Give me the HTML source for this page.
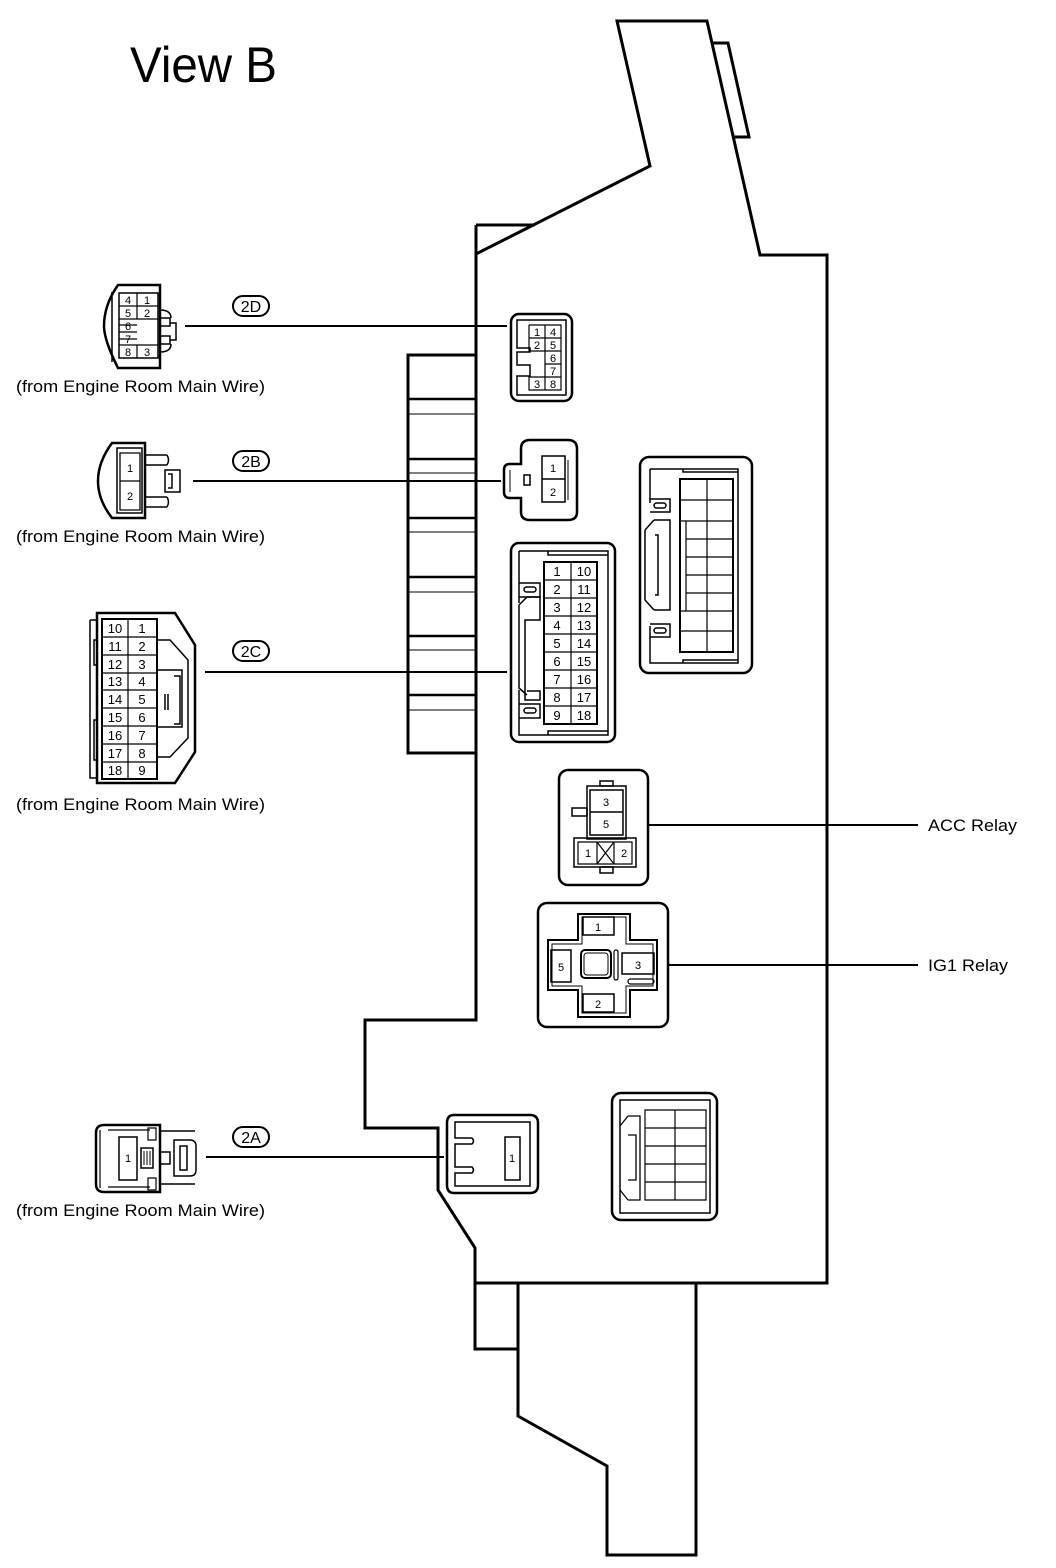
<!DOCTYPE html>
<html><head><meta charset="utf-8"><style>
html,body{margin:0;padding:0;background:#fff;}
svg{display:block;}
text{font-family:"Liberation Sans",sans-serif;fill:#000;}
</style></head><body>
<svg width="1056" height="1568" viewBox="0 0 1056 1568" xmlns="http://www.w3.org/2000/svg">
<g fill="none" stroke="#000" stroke-linejoin="miter">
<path d="M476 225 L535 225 M476 254 L650 166 L617 21 L707 21 L760 255 L827 255 L827 1283 L475 1283 L475 1248 L438 1190 L438 1128 L365 1128 L365 1020 L476 1020 L476 225" stroke-width="3"/>
<path d="M476 254 L535 225" stroke-width="1.5"/>
<path d="M712 43 L728 43 L749 137 L733 137" stroke-width="3"/>
<path d="M475 1283 L475 1349 L518 1349 M518 1283 L518 1416 L607 1466 L607 1555 L696 1555 L696 1283" stroke-width="3"/>
<path d="M476 355 L408 355 L408 753 L476 753" stroke-width="3"/>
<g stroke-width="2.5"><line x1="408" y1="399" x2="476" y2="399"/><line x1="408" y1="459" x2="476" y2="459"/><line x1="408" y1="518" x2="476" y2="518"/><line x1="408" y1="577" x2="476" y2="577"/><line x1="408" y1="636" x2="476" y2="636"/><line x1="408" y1="695" x2="476" y2="695"/></g>
<g stroke-width="1"><line x1="408" y1="414" x2="476" y2="414"/><line x1="408" y1="473" x2="476" y2="473"/><line x1="408" y1="532" x2="476" y2="532"/><line x1="408" y1="592" x2="476" y2="592"/><line x1="408" y1="650" x2="476" y2="650"/><line x1="408" y1="710" x2="476" y2="710"/></g>

<g stroke-width="2">
<line x1="185" y1="326" x2="507" y2="326"/>
<line x1="193" y1="481" x2="501" y2="481"/>
<line x1="205" y1="672" x2="507" y2="672"/>
<line x1="206" y1="1157" x2="444" y2="1157"/>
<line x1="648" y1="825" x2="918" y2="825"/>
<line x1="668" y1="965" x2="918" y2="965"/>
</g>

<rect x="511" y="314" width="61" height="87" rx="8" stroke-width="2.5"/>
<path d="M517 320 L566 320 L566 395 L517 395 L517 376 L530 376 L530 365 L517 365 L517 352 L530 352 L530 348 L517 348 Z" stroke-width="1.5"/>
<path d="M529 325 L561 325 L561 390 L545 390 L545 325 M529 325 L529 351 L545 351 M529 338 L561 338 M545 351 L561 351 M545 364 L561 364 M545 377 L561 377 M529 377 L545 377 L529 377 L529 390 L545 390" stroke-width="1.2"/>
<path d="M530 440 L568 440 Q577 440 577 449 L577 512 Q577 520 568 520 L530 520 Q521 520 521 512 L521 498 L510 498 Q504 498 504 492 L504 470 Q504 464 510 464 L521 464 L521 449 Q521 440 530 440 Z" stroke-width="2.5"/>
<rect x="542" y="456" width="23" height="46" stroke-width="1.5"/>
<line x1="542" y1="479" x2="565" y2="479" stroke-width="1.5"/>
<rect x="524" y="475" width="6" height="10" stroke-width="1.5"/>
<line x1="510" y1="470" x2="510" y2="492" stroke-width="1"/>
<line x1="568" y1="460" x2="568" y2="500" stroke-width="1"/>
<rect x="511" y="543" width="104" height="199" rx="8" stroke-width="2.5"/>
<path d="M519 551 L608 551 L608 735 L519 735 L519 690 M519 551 L519 603" stroke-width="1.5"/>
<path d="M548 551 L548 555 L608 555 M548 735 L548 731 L608 731" stroke-width="1.5"/>
<path d="M519 583 L540 583 L540 597 L519 597 M519 704 L540 704 L540 718 L519 718" stroke-width="1.5"/>
<rect x="524" y="587" width="12" height="5" rx="2.5" stroke-width="1.5"/>
<rect x="524" y="708" width="12" height="5" rx="2.5" stroke-width="1.5"/>
<path d="M527 597 L540 597 L540 620 L525 620 L525 700 L540 700 L540 691 L527 691 M519 605 L527 597 M519 605 L519 688 L527 695" stroke-width="1.5"/>
<rect x="544" y="562" width="53" height="162" stroke-width="2"/>
<g stroke-width="1.2"><line x1="571" y1="562" x2="571" y2="724"/>
<line x1="544" y1="580" x2="597" y2="580"/><line x1="544" y1="598" x2="597" y2="598"/><line x1="544" y1="616" x2="597" y2="616"/><line x1="544" y1="634" x2="597" y2="634"/><line x1="544" y1="652" x2="597" y2="652"/><line x1="544" y1="670" x2="597" y2="670"/><line x1="544" y1="688" x2="597" y2="688"/><line x1="544" y1="706" x2="597" y2="706"/></g>
<rect x="640" y="457" width="112" height="216" rx="9" stroke-width="2.5"/>
<path d="M650 469 L738 469 L738 663 L650 663 L650 626 M650 469 L650 503" stroke-width="1.5"/>
<path d="M683 469 L683 472 L738 472 M683 663 L683 660 L738 660" stroke-width="1.5"/>
<path d="M650 499 L670 499 L670 512 L650 512 M650 624 L670 624 L670 637 L650 637" stroke-width="1.5"/>
<rect x="654" y="503" width="12" height="5" rx="2.5" stroke-width="1.5"/>
<rect x="654" y="628" width="12" height="5" rx="2.5" stroke-width="1.5"/>
<path d="M654 520 L670 520 L670 610 L654 610 M645 530 L654 520 M645 530 L645 600 L654 610 M655 535 L658 535 L658 595 L655 595" stroke-width="1.5"/>
<rect x="680" y="479" width="53" height="173" stroke-width="2"/>
<g stroke-width="1.2"><line x1="707" y1="479" x2="707" y2="652"/><line x1="686" y1="521" x2="686" y2="611"/>
<line x1="680" y1="500" x2="733" y2="500"/><line x1="680" y1="521" x2="733" y2="521"/><line x1="686" y1="539" x2="733" y2="539"/><line x1="686" y1="557" x2="733" y2="557"/><line x1="686" y1="575" x2="733" y2="575"/><line x1="686" y1="593" x2="733" y2="593"/><line x1="680" y1="611" x2="733" y2="611"/><line x1="680" y1="631" x2="733" y2="631"/></g>
<rect x="559" y="770" width="89" height="115" rx="9" stroke-width="2.5"/>
<path d="M590 790 L623 790 L623 835 L590 835 Z M590 812 L623 812" stroke-width="1.5"/>
<rect x="587" y="786" width="39" height="53" stroke-width="1.5"/>
<rect x="600" y="781" width="13" height="5" stroke-width="1.5"/>
<rect x="572" y="808" width="15" height="8" stroke-width="1.5"/>
<rect x="574" y="838" width="62" height="29" stroke-width="1.5"/>
<path d="M578 842 L632 842 L632 864 L578 864 Z M597 842 L597 864 M614 842 L614 864 M597 842 L614 864 M614 842 L597 864" stroke-width="1.2"/>
<rect x="600" y="867" width="13" height="6" stroke-width="1.5"/>
<rect x="538" y="903" width="130" height="124" rx="9" stroke-width="2.5"/>
<path d="M578 914 L630 914 L630 940 L657 940 L657 990 L630 990 L630 1017 L578 1017 L578 990 L548 990 L548 940 L578 940 Z" stroke-width="2"/>
<path d="M582 917 L626 917 L626 944 L653 944 L653 986 L626 986 L626 1013 L582 1013 L582 986 L552 986 L552 944 L582 944 Z" stroke-width="1"/>
<rect x="583" y="917" width="31" height="18" stroke-width="1.5"/>
<rect x="583" y="994" width="31" height="18" stroke-width="1.5"/>
<rect x="551" y="950" width="20" height="32" stroke-width="1.5"/>
<rect x="622" y="953" width="32" height="21" stroke-width="1.5"/>
<rect x="581" y="950" width="30" height="28" rx="4" stroke-width="2"/>
<rect x="584" y="953" width="24" height="22" rx="3" stroke-width="1"/>
<rect x="614" y="950" width="4" height="30" rx="2" stroke-width="1.2"/>
<rect x="628" y="979" width="26" height="5" rx="2.5" stroke-width="1.2"/>
<path d="M454 1115 L530 1115 Q538 1115 538 1123 L538 1185 Q538 1193 530 1193 L454 1193 Q447 1193 447 1185 L447 1123 Q447 1115 454 1115 Z" stroke-width="2.5"/>
<path d="M455 1122 L530 1122 L530 1186 L455 1186 L455 1173 L472 1173 Q475 1170 472 1167 L455 1167 L455 1144 L472 1144 Q475 1141 472 1138 L455 1138 Z" stroke-width="1.5"/>
<rect x="505" y="1137" width="15" height="43" stroke-width="1.5"/>
<rect x="612" y="1093" width="105" height="127" rx="9" stroke-width="2.5"/>
<path d="M620 1100 L710 1100 L710 1213 L620 1213 Z" stroke-width="1.5"/>
<path d="M645 1110 L706 1110 L706 1200 L645 1200 Z M675 1110 L675 1200 M645 1128 L706 1128 M645 1146 L706 1146 M645 1164 L706 1164 M645 1182 L706 1182" stroke-width="1.2"/>
<path d="M628 1116 L640 1116 L640 1200 L628 1200 M620 1126 L628 1116 M620 1190 L628 1200 M628 1135 L636 1135 L636 1180 L628 1180" stroke-width="1.3"/>

<path d="M118 285 L160 285 L160 368 L118 368 Q104 340 104 326 Q104 305 118 285 Z" stroke-width="2.5"/>
<path d="M112 292 L112 362" stroke-width="1.5"/>
<rect x="119" y="293" width="39" height="65" stroke-width="1.5"/>
<path d="M137 293 L137 319 M119 306 L158 306 M119 319 L158 319 M119 325 L137 325 M119 332 L137 332 M119 339 L137 339 M119 345 L158 345 M137 345 L137 358" stroke-width="1.2"/>
<path d="M160 318 L170 318 L170 326 L160 326 M160 336 L170 336 L170 344 L160 344 M160 310 Q171 310 171 318 M160 352 Q171 352 171 344 M170 323 L176 323 L176 340 L170 340" stroke-width="1.5"/>
<path d="M112 443 L145 443 L145 518 L112 518 Q98 500 98 481 Q98 462 112 443 Z" stroke-width="2.5"/>
<rect x="117" y="448" width="25" height="65" stroke-width="1.5"/>
<path d="M120 453 L140 453 L140 510 L120 510 Z M120 481 L140 481" stroke-width="1.3"/>
<path d="M145 455 L167 455 M145 465 L167 465 M167 455 Q170 460 167 465 M145 497 L167 497 M145 507 L167 507 M167 497 Q170 502 167 507 M165 470 L180 470 L180 492 L165 492 Z M168 474 L172 474 L172 488 L168 488" stroke-width="1.5"/>
<path d="M97 613 L175 613 L195 645 L195 752 L175 783 L97 783 Z" stroke-width="2.5"/>
<path d="M90 620 L97 620 M90 620 L90 778 L97 778 M97 640 L94 640 L94 665 L97 665 M97 720 L94 720 L94 760 L97 760" stroke-width="1.5"/>
<rect x="102" y="619" width="55" height="160" stroke-width="2"/>
<g stroke-width="1.2"><line x1="128" y1="619" x2="128" y2="779"/>
<line x1="102" y1="637" x2="157" y2="637"/><line x1="102" y1="655" x2="157" y2="655"/><line x1="102" y1="673" x2="157" y2="673"/><line x1="102" y1="690" x2="157" y2="690"/><line x1="102" y1="708" x2="157" y2="708"/><line x1="102" y1="726" x2="157" y2="726"/><line x1="102" y1="744" x2="157" y2="744"/><line x1="102" y1="762" x2="157" y2="762"/></g>
<path d="M157 640 L170 640 L188 660 L188 738 L170 757 L157 757 M157 670 L182 670 L182 727 L157 727 M174 676 L180 676 L180 724 L174 724 M165 694 L165 710 M168 694 L168 710" stroke-width="1.5"/>
<path d="M104 1125 L160 1125 L160 1192 L104 1192 Q96 1192 96 1184 L96 1133 Q96 1125 104 1125 Z" stroke-width="2.5"/>
<path d="M100 1130 L100 1188 M108 1130 L150 1130 M108 1187 L150 1187" stroke-width="1.2"/>
<rect x="119" y="1137" width="18" height="43" stroke-width="1.5"/>
<rect x="141" y="1148" width="12" height="20" stroke-width="1.5"/>
<path d="M144 1151 L144 1165 M147 1151 L147 1165 M150 1151 L150 1165" stroke-width="1"/>
<path d="M148 1128 L156 1128 L156 1140 L148 1140 Z M148 1178 L156 1178 L156 1190 L148 1190 Z" stroke-width="1.2"/>
<path d="M160 1131 L195 1131 M160 1184 L195 1184 M174 1140 L190 1140 Q196 1140 196 1146 L196 1170 Q196 1176 190 1176 L174 1176 Z M180 1146 L187 1146 L187 1170 L180 1170 Z M160 1152 L170 1152 L170 1164 L160 1164" stroke-width="1.5"/>
<rect x="233" y="296" width="36" height="20" rx="10" stroke-width="2"/>
<rect x="233" y="451" width="36" height="20" rx="10" stroke-width="2"/>
<rect x="233" y="641" width="36" height="20" rx="10" stroke-width="2"/>
<rect x="233" y="1127" width="36" height="20" rx="10" stroke-width="2"/>
</g>
<text x="130" y="82" font-size="50" textLength="147" lengthAdjust="spacingAndGlyphs">View B</text>
<g font-size="17">
<text x="16" y="392" textLength="249" lengthAdjust="spacingAndGlyphs">(from Engine Room Main Wire)</text>
<text x="16" y="542" textLength="249" lengthAdjust="spacingAndGlyphs">(from Engine Room Main Wire)</text>
<text x="16" y="810" textLength="249" lengthAdjust="spacingAndGlyphs">(from Engine Room Main Wire)</text>
<text x="16" y="1216" textLength="249" lengthAdjust="spacingAndGlyphs">(from Engine Room Main Wire)</text>
<text x="928" y="831" textLength="89" lengthAdjust="spacingAndGlyphs">ACC Relay</text>
<text x="928" y="971" textLength="80" lengthAdjust="spacingAndGlyphs">IG1 Relay</text>
</g>
<g font-size="16" text-anchor="middle">
<text x="251" y="312">2D</text><text x="251" y="467">2B</text><text x="251" y="657">2C</text><text x="251" y="1143">2A</text>
</g>
<g font-size="11" text-anchor="middle">
<text x="537" y="336">1</text><text x="553" y="336">4</text>
<text x="537" y="349">2</text><text x="553" y="349">5</text>
<text x="553" y="362">6</text><text x="553" y="375">7</text>
<text x="537" y="388">3</text><text x="553" y="388">8</text>
<text x="128" y="304">4</text><text x="147" y="304">1</text>
<text x="128" y="317">5</text><text x="147" y="317">2</text>
<text x="128" y="330">6</text><text x="128" y="343">7</text>
<text x="128" y="356">8</text><text x="147" y="356">3</text>
<text x="553" y="472">1</text><text x="553" y="496">2</text>
<text x="130" y="472">1</text><text x="130" y="500">2</text>
<text x="128" y="1162">1</text><text x="512" y="1162">1</text>
<text x="606" y="806">3</text><text x="606" y="828">5</text>
<text x="588" y="857">1</text><text x="624" y="857">2</text>
<text x="598" y="931">1</text><text x="598" y="1008">2</text>
<text x="561" y="971">5</text><text x="638" y="969">3</text>
</g>
<g font-size="13" text-anchor="middle">
<text x="557" y="576">1</text><text x="584" y="576">10</text>
<text x="557" y="594">2</text><text x="584" y="594">11</text>
<text x="557" y="612">3</text><text x="584" y="612">12</text>
<text x="557" y="630">4</text><text x="584" y="630">13</text>
<text x="557" y="648">5</text><text x="584" y="648">14</text>
<text x="557" y="666">6</text><text x="584" y="666">15</text>
<text x="557" y="684">7</text><text x="584" y="684">16</text>
<text x="557" y="702">8</text><text x="584" y="702">17</text>
<text x="557" y="720">9</text><text x="584" y="720">18</text>
<text x="115" y="633">10</text><text x="142" y="633">1</text>
<text x="115" y="651">11</text><text x="142" y="651">2</text>
<text x="115" y="669">12</text><text x="142" y="669">3</text>
<text x="115" y="686">13</text><text x="142" y="686">4</text>
<text x="115" y="704">14</text><text x="142" y="704">5</text>
<text x="115" y="722">15</text><text x="142" y="722">6</text>
<text x="115" y="740">16</text><text x="142" y="740">7</text>
<text x="115" y="758">17</text><text x="142" y="758">8</text>
<text x="115" y="775">18</text><text x="142" y="775">9</text>
</g>
</svg>
</body></html>
